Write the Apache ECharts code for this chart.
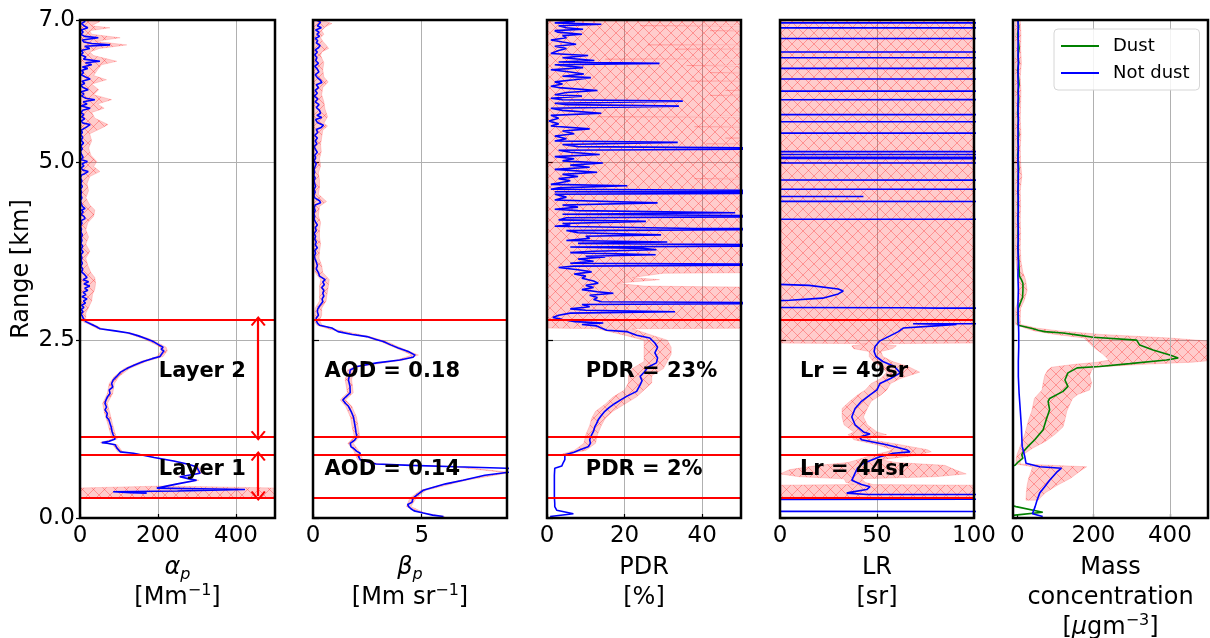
<!DOCTYPE html>
<html><head><meta charset="utf-8">
<script src="https://cdn.jsdelivr.net/npm/echarts@6/dist/echarts.min.js"></script>
<style>html,body{margin:0;padding:0;background:#fff}#c{width:1210px;height:638px}</style>
</head><body><div id="c"></div>
<script>
// ---------------- DATA ----------------
// Profiles: [height km, value]
const alphaProfile = [
[7.00,5],[6.98,13],[6.95,4],[6.92,10],[6.89,20],[6.86,3],[6.83,8],[6.80,2],[6.77,12],[6.75,47],[6.72,6],[6.69,10],[6.67,30],[6.65,77],[6.63,12],[6.60,25],[6.57,3],[6.54,8],[6.51,2],[6.48,15],[6.45,9],[6.42,51],[6.40,14],[6.37,30],[6.34,6],[6.32,20],[6.29,4],[6.26,9],[6.23,3],[6.20,14],[6.17,26],[6.14,5],[6.11,12],[6.08,2],[6.05,8],[6.02,21],[5.99,3],[5.96,10],[5.93,4],[5.90,15],[5.88,38],[5.85,8],[5.82,18],[5.79,3],[5.76,26],[5.73,7],[5.70,2],[5.67,10],[5.64,4],[5.61,12],[5.58,3],[5.55,8],[5.53,26],[5.50,18],[5.48,12],[5.45,3],[5.42,6],[5.39,2],[5.35,7],[5.31,3],[5.27,9],[5.23,2],[5.19,6],[5.15,1],[5.11,4],[5.07,8],[5.04,2],[5.01,19],[4.98,5],[4.95,10],[4.92,3],[4.89,8],[4.87,21],[4.84,12],[4.82,4],[4.78,1],[4.74,5],[4.70,2],[4.66,6],[4.62,1],[4.58,4],[4.54,2],[4.50,5],[4.46,1],[4.42,3],[4.38,6],[4.35,13],[4.33,4],[4.30,8],[4.27,2],[4.24,10],[4.21,13],[4.18,3],[4.14,5],[4.10,1],[4.06,4],[4.02,2],[3.98,6],[3.94,3],[3.90,5],[3.86,2],[3.82,7],[3.78,3],[3.74,8],[3.70,2],[3.66,5],[3.62,3],[3.58,6],[3.54,2],[3.50,7],[3.46,4],[3.42,12],[3.38,18],[3.35,8],[3.32,22],[3.29,10],[3.26,25],[3.23,12],[3.20,20],[3.17,8],[3.14,15],[3.11,5],[3.08,18],[3.05,9],[3.02,14],[2.99,4],[2.96,10],[2.93,3],[2.90,8],[2.87,2],[2.84,6],[2.81,8],[2.79,6],
[2.76,15],[2.72,30],[2.68,45],[2.66,51],[2.63,90],[2.60,125],[2.56,150],[2.52,170],[2.48,188],[2.44,200],[2.40,213],[2.37,208],[2.35,215],[2.31,210],[2.27,205],[2.24,185],[2.20,162],[2.15,140],[2.10,120],[2.05,104],[1.99,94],[1.94,85],[1.89,81],[1.84,84],[1.80,75],[1.75,77],[1.70,70],[1.65,66],[1.61,64],[1.56,68],[1.52,64],[1.47,70],[1.42,68],[1.38,74],[1.33,77],[1.28,80],[1.22,82],[1.17,85],[1.11,90],[1.08,75],[1.06,56],[1.05,70],[1.03,90],[0.98,95],[0.93,103],[0.91,137],[0.85,190],[0.80,240],[0.76,275],[0.72,299],[0.66,305],[0.63,308],[0.58,256],[0.55,280],[0.53,299],[0.48,250],[0.42,197],[0.40,423],[0.38,250],[0.37,85],[0.355,130],[0.35,171]
];
// Uncertainty bands: [height km, lower, upper]
const alphaBand = [
[7.00,0,20],[6.98,0,51],[6.92,0,30],[6.89,0,77],[6.85,0,25],[6.80,0,30],[6.75,0,103],[6.70,0,40],[6.65,0,120],[6.60,0,50],[6.55,0,25],[6.50,0,35],[6.42,0,94],[6.37,0,55],[6.30,0,45],[6.22,0,35],[6.16,0,68],[6.10,0,30],[6.02,0,48],[5.95,0,35],[5.88,0,81],[5.82,0,45],[5.76,0,62],[5.70,0,30],[5.62,0,38],[5.53,0,72],[5.48,0,55],[5.40,0,25],[5.30,0,30],[5.20,0,22],[5.10,0,28],[5.01,0,43],[4.94,0,35],[4.87,0,51],[4.80,0,25],[4.70,0,18],[4.60,0,22],[4.50,0,15],[4.40,0,25],[4.33,0,38],[4.24,0,35],[4.15,0,20],[4.05,0,15],[3.95,0,22],[3.85,0,15],[3.75,0,25],[3.65,0,15],[3.55,0,20],[3.45,0,28],[3.38,0,38],[3.30,0,40],[3.22,0,38],[3.14,0,32],[3.05,0,30],[2.96,0,22],[2.88,0,15],[2.80,0,15],
[2.76,8,22],[2.72,24,36],[2.66,45,58],[2.60,118,132],[2.52,163,178],[2.44,193,208],[2.40,206,221],[2.35,208,224],[2.27,198,213],[2.20,155,170],[2.10,113,127],[1.99,88,100],[1.89,75,88],[1.75,70,84],[1.61,58,70],[1.47,63,77],[1.33,71,83],[1.17,79,91],[1.11,84,96],[1.06,52,62],[1.03,84,96],[0.93,97,109],[0.91,132,142],[0.80,236,246],[0.72,295,305],[0.63,303,313],[0.58,252,262],[0.53,295,305],[0.45,215,225],[0.42,-20,520],[0.28,-20,520]
];
const betaProfile = [
[7.00,0.15],[6.97,0.35],[6.95,0.41],[6.92,0.2],[6.89,0.38],[6.86,0.12],[6.83,0.28],[6.80,0.18],[6.77,0.3],[6.74,0.1],[6.71,0.22],[6.68,0.15],[6.64,0.33],[6.61,0.25],[6.58,0.1],[6.55,0.2],[6.51,0.08],[6.47,0.18],[6.43,0.12],[6.39,0.25],[6.35,0.08],[6.31,0.2],[6.27,0.27],[6.23,0.1],[6.19,0.2],[6.15,0.35],[6.12,0.41],[6.09,0.15],[6.05,0.25],[6.01,0.1],[5.97,0.2],[5.93,0.06],[5.89,0.22],[5.85,0.1],[5.81,0.28],[5.77,0.15],[5.73,0.3],[5.69,0.35],[5.66,0.18],[5.63,0.4],[5.60,0.12],[5.56,0.2],[5.52,0.48],[5.49,0.38],[5.46,0.15],[5.42,0.22],[5.38,0.08],[5.34,0.2],[5.30,0.1],[5.26,0.18],[5.22,0.05],[5.18,0.12],[5.14,0.2],[5.10,0.08],[5.06,0.12],[5.02,0.05],[4.98,0.15],[4.94,0.1],[4.90,0.05],[4.86,0.08],[4.82,0.03],[4.78,0.1],[4.74,0.05],[4.70,0.08],[4.66,0.12],[4.62,0.05],[4.58,0.1],[4.54,0.04],[4.50,0.08],[4.46,0.3],[4.43,0.35],[4.40,0.1],[4.36,0.06],[4.32,0.1],[4.28,0.04],[4.24,0.08],[4.20,0.05],[4.16,0.12],[4.12,0.2],[4.08,0.1],[4.04,0.15],[4.00,0.05],[3.96,0.12],[3.92,0.08],[3.88,0.15],[3.84,0.1],[3.80,0.2],[3.76,0.08],[3.72,0.12],[3.68,0.06],[3.64,0.1],[3.60,0.15],[3.55,0.2],[3.50,0.15],[3.45,0.25],[3.40,0.3],[3.35,0.56],[3.32,0.45],[3.28,0.52],[3.24,0.4],[3.20,0.5],[3.16,0.45],[3.12,0.5],[3.08,0.42],[3.04,0.45],[3.02,0.4],[2.98,0.3],[2.94,0.22],[2.90,0.2],[2.85,0.25],[2.81,0.15],[2.78,0.15],[2.74,0.2],[2.71,0.3],
[2.67,0.87],[2.65,0.93],[2.62,1.15],[2.58,1.8],[2.55,2.48],[2.51,2.9],[2.48,3.23],[2.43,3.6],[2.39,3.92],[2.34,4.38],[2.29,4.69],[2.26,4.6],[2.22,4.0],[2.18,2.93],[2.13,2.02],[2.08,1.71],[2.01,1.68],[1.94,1.63],[1.85,1.7],[1.76,1.71],[1.70,1.5],[1.66,1.37],[1.61,1.5],[1.57,1.63],[1.50,1.75],[1.42,1.86],[1.35,1.9],[1.28,1.94],[1.20,1.98],[1.14,2.02],[1.09,1.9],[1.05,1.71],[1.00,1.75],[0.98,1.86],[0.94,2.0],[0.91,2.17],[0.86,2.1],[0.82,2.17],[0.76,2.9],[0.74,4.5],[0.72,6.6],[0.70,8.9],[0.68,9.6],[0.66,9.5],[0.64,8.9],[0.60,7.9],[0.56,7.3],[0.53,6.9],[0.48,6.1],[0.43,5.5],[0.39,5.07],[0.33,4.8],[0.28,4.6],[0.22,4.55],[0.19,4.35],[0.16,4.4],[0.13,4.5],[0.10,4.65],[0.07,5.07],[0.04,5.5],[0.02,6.0]
];
const betaBand = [
[7.00,0,0.4],[6.95,0,0.87],[6.90,0,0.55],[6.85,0,0.4],[6.80,0,0.5],[6.75,0,0.35],[6.70,0,0.45],[6.65,0,0.6],[6.60,0,0.72],[6.55,0,0.4],[6.50,0,0.35],[6.40,0,0.5],[6.30,0,0.45],[6.20,0,0.5],[6.13,0,0.7],[6.05,0,0.45],[5.95,0,0.4],[5.85,0,0.5],[5.75,0,0.55],[5.64,0,0.67],[5.55,0,0.5],[5.51,0,0.67],[5.45,0,0.45],[5.35,0,0.4],[5.25,0,0.35],[5.15,0,0.38],[5.05,0,0.3],[4.95,0,0.35],[4.85,0,0.25],[4.75,0,0.3],[4.65,0,0.3],[4.55,0,0.25],[4.45,0,0.62],[4.38,0,0.3],[4.25,0,0.25],[4.15,0,0.35],[4.05,0,0.3],[3.95,0,0.3],[3.85,0,0.35],[3.75,0,0.3],[3.65,0,0.28],[3.55,0.05,0.4],[3.45,0.1,0.45],[3.35,0.35,0.75],[3.25,0.3,0.7],[3.15,0.3,0.65],[3.05,0.3,0.6],[2.95,0.1,0.4],[2.85,0.08,0.4],[2.78,0.05,0.3],[2.71,0.18,0.42],[2.65,0.8,1.05],[2.55,2.35,2.6],[2.48,3.1,3.4],[2.39,3.8,4.05],[2.29,4.55,4.85],[2.22,3.85,4.15],[2.13,1.9,2.15],[2.08,1.58,1.85],[1.94,1.48,1.78],[1.76,1.58,1.85],[1.66,1.25,1.5],[1.57,1.5,1.78],[1.42,1.72,2.0],[1.28,1.8,2.08],[1.14,1.9,2.15],[1.05,1.6,1.85],[0.94,1.88,2.12],[0.82,2.05,2.3],[0.76,2.75,3.05],[0.72,6.45,6.75],[0.64,8.8,9.1],[0.53,6.75,7.05],[0.39,4.95,5.2],[0.28,4.45,4.75],[0.16,4.3,4.5],[0.07,5.0,5.15],[0.02,5.95,6.05]
];
const pdrProfile = [
[7.00,3],[6.98,7.2],[6.96,2],[6.94,14],[6.92,3],[6.89,5],[6.87,9.3],[6.85,2],[6.83,2.7],[6.80,9],[6.78,4],[6.75,5],[6.72,1],[6.69,4],[6.66,7.5],[6.63,2],[6.60,5],[6.57,3],[6.53,1],[6.50,10.6],[6.47,4],[6.43,12.2],[6.41,3],[6.39,29],[6.37,2],[6.33,9.3],[6.30,1],[6.27,6],[6.24,9.5],[6.21,4],[6.19,11.3],[6.16,7],[6.13,2],[6.10,4],[6.07,1],[6.05,3],[6.01,13],[5.98,5],[5.95,2],[5.93,9],[5.90,1],[5.88,4],[5.86,35],[5.83,2],[5.81,5],[5.79,34],[5.76,1],[5.73,4],[5.69,14],[5.66,1],[5.62,3],[5.58,0.5],[5.54,3],[5.51,1],[5.47,11],[5.44,4],[5.40,7],[5.37,2],[5.33,5],[5.30,2],[5.28,33.7],[5.25,4],[5.22,8],[5.19,80],[5.17,3],[5.14,6],[5.11,13.6],[5.08,2],[5.05,7],[5.02,4],[4.99,14.4],[4.96,6],[4.93,11],[4.90,2],[4.86,12.9],[4.83,4],[4.80,8],[4.77,3],[4.74,6],[4.71,3],[4.69,1],[4.67,20.7],[4.64,3],[4.62,1],[4.60,80],[4.585,2],[4.57,80],[4.55,2],[4.51,5],[4.47,2],[4.43,28.5],[4.40,4],[4.37,8],[4.34,2],[4.32,8],[4.29,48.5],[4.27,4],[4.24,80],[4.22,5],[4.19,3],[4.17,25.5],[4.14,4],[4.12,6],[4.10,2],[4.07,38],[4.06,80],[4.04,5],[4.01,8],[3.98,29.4],[3.96,10],[3.93,11],[3.90,5],[3.88,31],[3.86,8],[3.83,80],[3.81,6],[3.79,24.7],[3.77,28.2],[3.75,12],[3.73,6],[3.70,28],[3.68,10],[3.67,15],[3.64,8],[3.61,12],[3.58,6],[3.56,80],[3.54,7],[3.52,3],[3.49,8],[3.46,11.5],[3.43,7],[3.40,10],[3.37,9],[3.33,12],[3.30,13.2],[3.27,10],[3.24,12],[3.21,9],[3.18,13],[3.16,17.1],[3.13,11],[3.10,13],[3.07,12],[3.04,14],[3.02,80],[3.00,9],[2.97,11],[2.94,6],[2.92,10],[2.90,33],[2.88,6],[2.85,3],[2.82,1.5],[2.79,4],[2.76,7.2],[2.74,14.5],[2.72,9],[2.70,12.8],[2.67,14],[2.64,15.4],[2.62,20.5],[2.57,23.1],[2.53,26.5],[2.46,27.8],[2.40,28.5],[2.32,27.8],[2.25,28.5],[2.18,28.2],[2.12,26],[2.06,25.2],[1.99,24.0],[1.93,24.5],[1.87,24.0],[1.78,23.1],[1.71,20.5],[1.66,19],[1.61,17.5],[1.55,16],[1.50,14.9],[1.44,14],[1.38,13.2],[1.33,12.8],[1.28,12.3],[1.22,12],[1.17,11.5],[1.10,11.0],[1.05,11.2],[1.00,10.6],[0.96,8.5],[0.92,6.8],[0.89,4.6],[0.85,4.6],[0.82,4.6],[0.78,4.2],[0.73,3.8],[0.70,2.0],[0.60,1.9],[0.50,1.9],[0.40,1.9],[0.30,1.9],[0.20,2.0],[0.16,2.0],[0.11,2.5],[0.06,6.8],[0.02,0.8]
];
const pdrBand = [
[7.00,0,60],[6.93,0,60],[6.92,0,24],[6.91,0,60],[6.86,0,60],[6.85,0,42],[6.84,0,60],[6.66,0,60],[6.65,0,26],[6.64,0,60],[6.60,0,60],[6.59,0,33],[6.58,0,60],[6.46,0,60],[6.45,0,15],[6.44,0,60],[6.37,0,60],[6.36,0,36],[6.35,0,60],[6.27,0,60],[6.26,0,42],[6.25,0,60],[6.15,0,60],[6.14,0,37],[6.13,0,60],[6.02,0,60],[6.01,0,46],[6.00,0,60],[5.95,0,60],[5.94,0,42],[5.93,0,60],[5.65,0,60],[5.64,0,13],[5.63,0,60],[5.51,0,60],[5.50,0,38],[5.49,0,60],[5.35,0,60],[5.34,0,46],[5.33,0,60],[5.27,0,60],[5.26,0,41],[5.25,0,60],[4.78,0,60],[4.77,0,38],[4.76,0,60],[3.45,0,60],[3.44,0,30],[3.38,0,22],[3.35,0,29],[3.30,0,18],[3.26,0,25],[3.24,0,60],[2.67,0,60],
[2.66,13,22],[2.57,20,27],[2.50,25,31],[2.40,25,32],[2.30,25,32],[2.20,25,31],[2.10,22,30],[2.00,21,27],[1.90,21,27],[1.80,20,25],[1.70,17,23],[1.60,15,20],[1.50,12.5,17],[1.40,11.5,15],[1.30,11,14],[1.17,10,13],[1.05,9.5,12.5],[0.95,7,10],[0.90,4,5.5]
];
// LR: +/-999 mark samples that leave the 0-100 sr scale
const lrProfile = [
[7.00,999],[6.962,999],[6.958,-999],[6.892,-999],[6.888,999],[6.742,999],[6.738,-999],[6.552,-999],[6.548,999],[6.472,999],[6.468,-999],[6.322,-999],[6.318,999],[6.172,999],[6.168,-999],[6.002,-999],[5.998,999],[5.882,999],[5.878,-999],[5.672,-999],[5.668,999],[5.572,999],[5.568,-999],[5.412,-999],[5.408,999],[5.152,999],[5.148,-999],[5.112,-999],[5.108,999],[5.072,999],[5.068,-999],[5.042,-999],[5.038,999],[4.992,999],[4.988,-999],[4.752,-999],[4.748,999],[4.622,999],[4.618,-999],[4.522,-999],[4.52,43],[4.518,-999],[4.452,-999],[4.448,999],[4.202,999],[4.198,-999],
[3.31,-999],[3.30,-20],[3.27,15],[3.22,30],[3.19,32.6],[3.15,30],[3.09,22],[3.06,5],[3.04,-20],[3.03,-999],[3.02,-999],[2.955,63.5],[2.95,82],[2.94,999],[2.745,999],[2.73,68.6],[2.72,91],[2.70,80],[2.67,63.5],[2.62,61],[2.56,56.7],[2.49,51.5],[2.41,49],[2.34,48.5],[2.27,49.5],[2.20,53],[2.13,59],[2.04,62],[1.96,57],[1.89,51.5],[1.80,50],[1.73,46.4],[1.64,42],[1.54,38.7],[1.42,37],[1.31,38.7],[1.21,43],[1.18,46.4],[1.14,41],[1.10,42],[1.03,55],[0.96,65.3],[0.93,67],[0.91,58.4],[0.86,51.5],[0.77,43],[0.70,40],[0.63,38.7],[0.53,37],[0.47,42],[0.44,46.4],[0.40,44.7],[0.36,36],[0.35,34.4],[0.33,45],[0.32,999],[0.265,999],[0.26,-999],[0.095,-999],[0.09,999],[0.0,999]
];
const lrBand = [
[7.00,-10,110],[2.46,-10,110],[2.45,45,52],[2.42,37,60],[2.38,38,58],[2.34,46,52],[2.27,46,53],[2.20,48,58],[2.13,52,66],[2.05,55,72],[1.96,52,62],[1.89,47,57],[1.80,44,55],[1.73,40,52],[1.64,36,47],[1.54,32,45],[1.42,32,43],[1.31,33,45],[1.21,38,50],[1.17,35,55],[1.14,37,46],[1.10,38,47],[1.03,50,62],[0.96,58,76],[0.93,55,78],[0.88,47,70],[0.82,40,52],[0.78,35,60],[0.74,20,85],[0.68,5,90],[0.62,0,96],[0.58,10,80],[0.55,33,42],[0.50,34,44],[0.47,38,48],[0.46,-10,110],[0.29,-10,110]
];
const dustProfile = [
[7.00,2],[6.9,4],[6.8,1],[6.7,3],[6.6,5],[6.5,2],[6.4,4],[6.3,1],[6.2,3],[6.1,5],[6.0,2],[5.9,4],[5.8,3],[5.7,1],[5.6,3],[5.5,2],[5.4,4],[5.3,2],[5.2,3],[5.1,1],[5.0,3],[4.9,4],[4.8,2],[4.7,3],[4.6,2],[4.5,3],[4.4,2],[4.3,3],[4.2,2],[4.1,3],[4.0,2],[3.9,3],[3.8,2],[3.7,3],[3.6,4],[3.5,5],[3.4,6],[3.35,11],[3.3,15],[3.2,15],[3.1,14],[3.02,8],[2.95,3],[2.85,2],[2.75,2],[2.71,3],[2.66,42],[2.64,55],[2.62,72],[2.60,120],[2.57,160],[2.54,199],[2.50,313],[2.43,321],[2.36,356],[2.29,400],[2.25,422],[2.22,391],[2.17,295],[2.13,216],[2.11,157],[2.04,133],[1.94,125],[1.85,133],[1.78,120],[1.68,85],[1.64,81],[1.52,85],[1.38,76],[1.24,68],[1.10,46],[1.01,29],[0.93,16],[0.89,12],[0.84,15],[0.79,3],[0.74,-6],[0.70,-30],[0.20,-30],[0.16,-3],[0.08,67],[0.04,-6],[0.02,-30]
];
const notDustProfile = [
[7.0,2],[6.8,3],[6.6,2],[6.4,3],[6.2,2],[6.0,3],[5.8,2],[5.6,3],[5.4,2],[5.2,3],[5.0,2],[4.8,3],[4.6,2],[4.4,3],[4.2,2],[4.0,3],[3.8,2],[3.6,3],[3.4,2],[3.2,3],[3.0,2],[2.8,3],[2.6,4],[2.4,4],[2.2,3],[1.99,3],[1.75,5],[1.52,8],[1.28,11],[1.01,13],[0.86,20],[0.77,23],[0.72,59],[0.70,116],[0.68,120],[0.64,103],[0.53,85],[0.44,72],[0.35,59],[0.25,52],[0.16,47],[0.09,42],[0.06,40],[0.02,67]
];
const massBand = [
[7.0,-5,8],[6.8,-6,10],[6.6,-4,9],[6.4,-6,11],[6.2,-5,8],[6.0,-6,10],[5.8,-4,9],[5.6,-5,8],[5.4,-6,10],[5.2,-4,8],[5.0,-5,9],[4.8,-4,12],[4.6,-5,8],[4.4,-4,9],[4.2,-5,8],[4.0,-4,9],[3.8,-5,8],[3.6,-3,10],[3.45,0,15],[3.35,3,22],[3.2,5,26],[3.05,2,18],[2.95,-4,9],[2.8,-4,8],[2.72,-4,9],[2.67,20,50],[2.63,45,110],[2.58,100,220],[2.53,175,400],[2.48,185,520],[2.40,200,520],[2.30,225,520],[2.22,240,520],[2.19,210,460],[2.16,150,330],[2.12,90,205],[2.08,80,195],[2.00,72,190],[1.90,68,195],[1.80,65,190],[1.74,55,160],[1.68,45,145],[1.60,42,138],[1.50,38,130],[1.38,30,125],[1.28,25,120],[1.18,20,100],[1.08,12,75],[0.98,6,40],[0.90,0,18],[0.82,-3,8],[0.76,-3,8],[0.72,40,182],[0.66,37,165],[0.56,30,140],[0.46,26,105],[0.36,24,75],[0.28,23,60],[0.25,23,55]
];
// Axes
const xRanges = [[0,500],[0,8.92],[0,50],[0,100],[-11,500]];
const xTickValues = [[0,200,400],[0,5],[0,20,40],[0,50,100],[0,200,400]];
const xIntervals = [200,5,20,50,100];
const yRange = [0,7];
const yInterval = 2.5;
const xNames = ['{i|α}{s|p}\n[Mm{u|−1}]','{i|β}{s|p}\n[Mm sr{u|−1}]','PDR\n[%]','LR\n[sr]','Mass\nconcentration\n[{i|μ}gm{u|−3}]'];
const yName = 'Range [km]';
const massGridValues = [200,400];
// Layer boundaries (km) and annotations
const layerBounds = [2.785,1.14,0.886,0.295];
const arrowX = 457;
const arrowSpans = [[2.77,1.155],[0.872,0.31]];
const annotations = [
 [0,202,2.06,'Layer 2'],[0,202,0.685,'Layer 1'],
 [1,0.53,2.06,'AOD = 0.18'],[1,0.53,0.685,'AOD = 0.14'],
 [2,10,2.06,'PDR = 23%'],[2,10,0.685,'PDR = 2%'],
 [3,10.3,2.06,'Lr = 49sr'],[3,10.3,0.685,'Lr = 44sr']
];

// ---------------- CHART ----------------
const FONT = 'DejaVu Sans';
const chart = echarts.init(document.getElementById('c'), null, {renderer:'canvas'});

const hc = document.createElement('canvas'); hc.width = 11; hc.height = 11;
const g = hc.getContext('2d');
g.fillStyle = 'rgba(255,0,0,0.2)'; g.fillRect(0,0,11,11);
g.strokeStyle = 'rgba(255,40,40,0.36)'; g.lineWidth = 1;
g.beginPath(); g.moveTo(0,0); g.lineTo(11,11); g.moveTo(11,0); g.lineTo(0,11); g.stroke();
const hatch = {image: hc, repeat: 'repeat'};

const gridLefts = [80,313,547,780,1013];
const gridWidths = [195,194,194,194,195];
const grids = gridLefts.map((l,i)=>({left:l, top:20, width:gridWidths[i], height:498, show:true,
  borderColor:'#000', borderWidth:2.5, backgroundColor:'transparent', z:20, containLabel:false,
  outerBoundsMode:'none'}));

const xAxes = xRanges.map((r,i)=>({
  type:'value', gridIndex:i, min:r[0], max:r[1], interval:xIntervals[i],
  name:xNames[i], nameLocation:'middle', nameGap:33,
  nameTextStyle:{fontFamily:FONT, fontSize:24, color:'#000', lineHeight:30,
    rich:{i:{fontFamily:FONT, fontStyle:'italic', fontSize:24, lineHeight:30, color:'#000'},
          s:{fontFamily:FONT, fontStyle:'italic', fontSize:16, lineHeight:16, verticalAlign:'bottom', color:'#000'},
          u:{fontFamily:FONT, fontSize:16, lineHeight:16, verticalAlign:'top', color:'#000'}}},
  axisLine:{show:false},
  axisTick:{show:true, inside:true, length:4, lineStyle:{color:'#000', width:1.2}, customValues:xTickValues[i]},
  axisLabel:{show:true, fontFamily:FONT, fontSize:23, color:'#000', margin:7, customValues:xTickValues[i]},
  splitLine:{show:i!==4, lineStyle:{color:'#b0b0b0', width:1}}
}));
const yAxes = [0,1,2,3,4].map(i=>({
  type:'value', gridIndex:i, min:yRange[0], max:yRange[1], interval:yInterval,
  name: i===0 ? yName : '', nameLocation:'middle', nameGap:46,
  nameTextStyle:{fontFamily:FONT, fontSize:24, color:'#000'},
  axisLine:{show:false},
  axisTick:{show:true, inside:(i>=1 && i<=3), length:(i>=1&&i<=3)?6:4, lineStyle:{color:'#000', width:1.2}},
  axisLabel:{show:i===0, fontFamily:FONT, fontSize:23, color:'#000', margin:5, formatter:v=>v.toFixed(1)},
  splitLine:{show:true, lineStyle:{color:'#b0b0b0', width:1}}
}));

function bandSeries(rows, idx){
  return {type:'custom', xAxisIndex:idx, yAxisIndex:idx, clip:true, silent:true, z:2,
    data:[[0,0]], animation:false,
    renderItem:function(params, api){
      const pts = [];
      for (const r of rows) pts.push(api.coord([r[1], r[0]]));
      for (let k=rows.length-1;k>=0;k--) pts.push(api.coord([rows[k][2], rows[k][0]]));
      return {type:'polygon', shape:{points:pts}, style:{fill:hatch, stroke:'rgba(255,0,0,0.15)', lineWidth:1}};
    }};
}
const redLines = {silent:true, symbol:['none','none'], animation:false, label:{show:false},
  lineStyle:{color:'#ff0000', width:2.2, type:'solid'}, data: layerBounds.map(h=>({yAxis:h}))};
function lineSeries(name, prof, idx, color, withRed){
  const s = {type:'line', name:name, xAxisIndex:idx, yAxisIndex:idx, data:prof.map(r=>[r[1], r[0]]),
    symbol:'none', showSymbol:false, lineStyle:{color:color, width:1.6}, itemStyle:{color:color},
    z:3, clip:true, animation:false, silent:true};
  if (withRed) s.markLine = redLines;
  return s;
}
const CHEV = 'path://M0,9 L6,0 L12,9 L10.6,10 L6,3 L1.4,10 Z';
function annSeries(idx){
  const s = {type:'scatter', xAxisIndex:idx, yAxisIndex:idx, symbolSize:0, itemStyle:{color:'#000', opacity:1},
    z:10, silent:true, animation:false,
    data: annotations.filter(a=>a[0]===idx).map(a=>[a[1],a[2],a[3]]),
    label:{show:true, position:'right', distance:0, formatter:p=>p.data[2], fontFamily:FONT, fontSize:21,
      fontWeight:'bold', color:'#000', opacity:1, textBorderWidth:0}};
  if (idx===0){
    s.markLine = {silent:true, animation:false, symbol:[CHEV,CHEV], symbolSize:[15,10], label:{show:false},
      lineStyle:{color:'#ff0000', width:2.2, type:'solid'},
      data: arrowSpans.map(sp=>[{coord:[arrowX, sp[0]]},{coord:[arrowX, sp[1]]}])};
  }
  return s;
}
const massGrid = {type:'line', xAxisIndex:4, yAxisIndex:4, data:[], silent:true, z:1,
  markLine:{silent:true, symbol:['none','none'], animation:false, label:{show:false},
    lineStyle:{color:'#b0b0b0', width:1, type:'solid'}, data: massGridValues.map(v=>({xAxis:v}))}};

const series = [
  bandSeries(alphaBand,0), lineSeries('alpha', alphaProfile, 0, '#0000ff', true), annSeries(0),
  bandSeries(betaBand,1), lineSeries('beta', betaProfile, 1, '#0000ff', true), annSeries(1),
  bandSeries(pdrBand,2), lineSeries('pdr', pdrProfile, 2, '#0000ff', true), annSeries(2),
  bandSeries(lrBand,3), lineSeries('lr', lrProfile, 3, '#0000ff', true), annSeries(3),
  massGrid, bandSeries(massBand,4),
  lineSeries('Dust', dustProfile, 4, '#008000', false),
  lineSeries('Not dust', notDustProfile, 4, '#0000ff', false)
];

chart.setOption({
  animation:false,
  backgroundColor:'#fff',
  grid:grids, xAxis:xAxes, yAxis:yAxes, series:series,
  legend:{data:['Dust','Not dust'], orient:'vertical', left:1054, top:29, padding:[8,10,8,7],
    icon:'rect', itemWidth:38, itemHeight:2, itemGap:9, backgroundColor:'rgba(255,255,255,0.85)',
    borderColor:'#d6d6d6', borderWidth:1, borderRadius:4, z:30,
    textStyle:{fontFamily:FONT, fontSize:18, color:'#000', lineHeight:18, padding:[0,0,0,9]}}
});
</script></body></html>
